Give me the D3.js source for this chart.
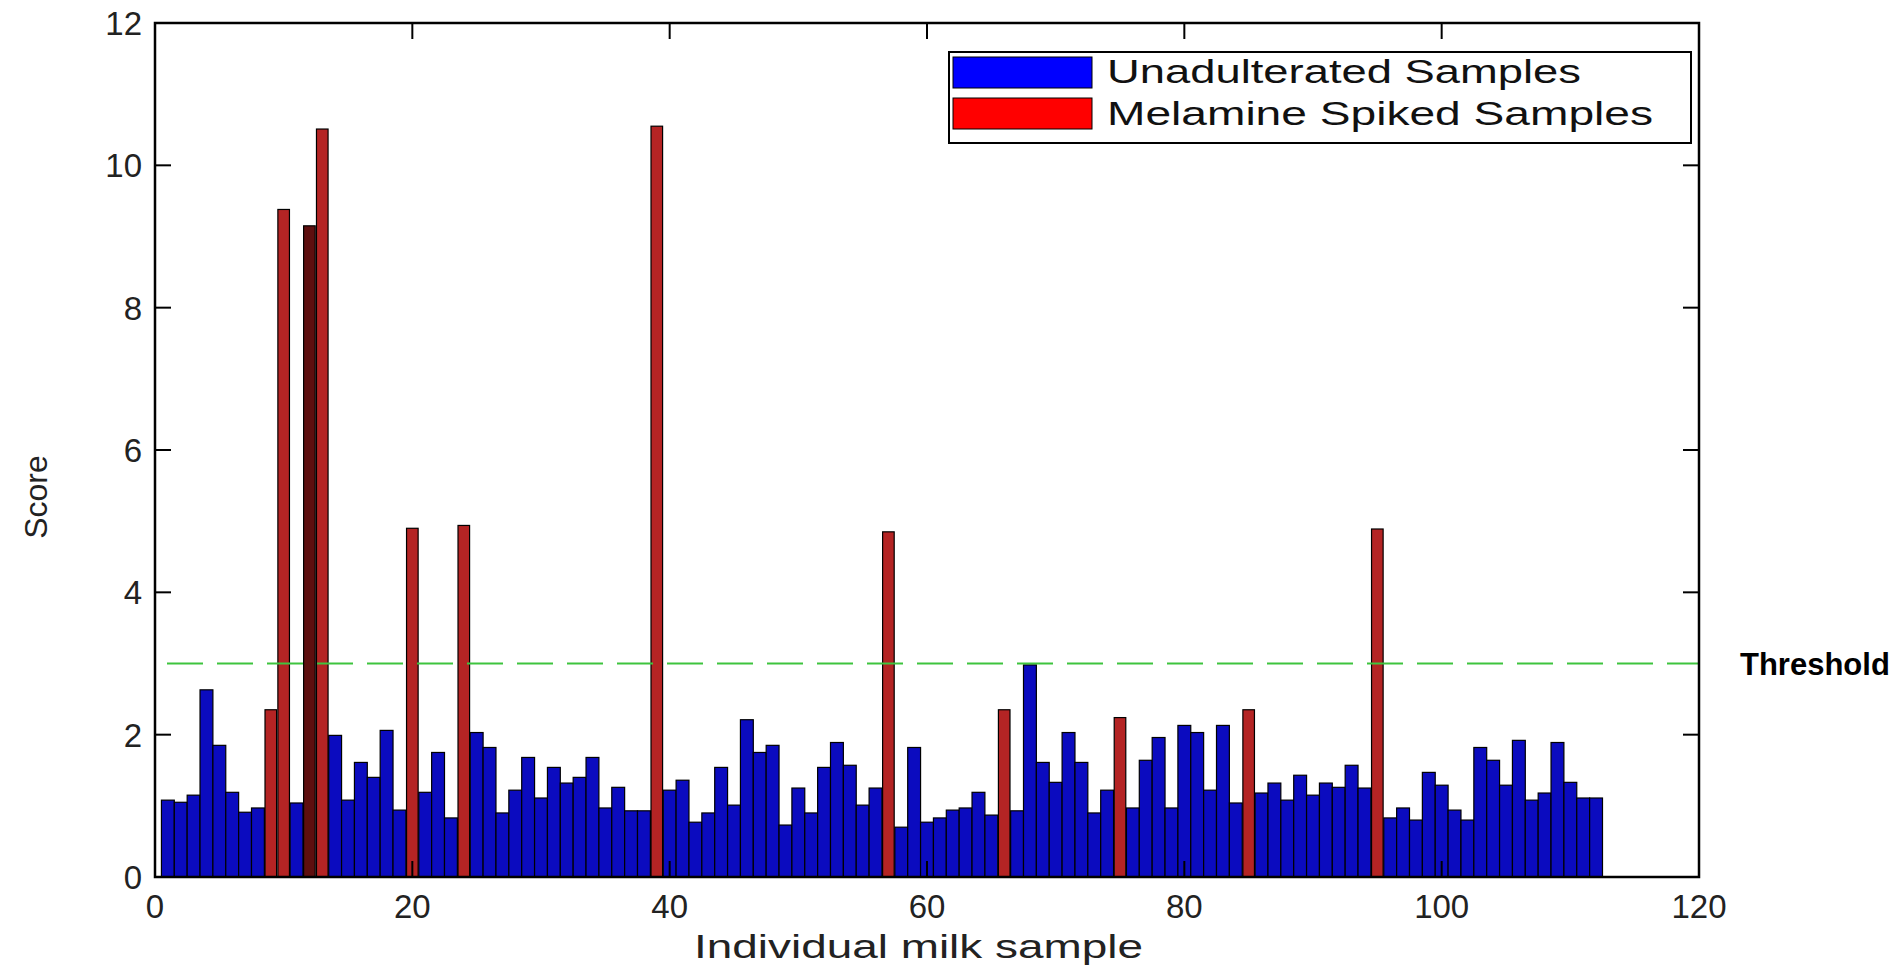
<!DOCTYPE html>
<html>
<head>
<meta charset="utf-8">
<script src="https://cdn.jsdelivr.net/npm/d3@7"></script>
<style>
  body { margin: 0; background: #fff; }
  svg { display: block; }
  text { font-family: "Liberation Sans", Arial, sans-serif; }
</style>
</head>
<body>
<svg id="chart"></svg>
<script>
// Score of each milk sample, samples 1..112
const scores = [
  1.08, 1.05, 1.15, 2.63, 1.85, 1.19, 0.91, 0.97, 2.35, 9.38,
  1.04, 9.15, 10.51, 1.99, 1.08, 1.61, 1.40, 2.06, 0.94, 4.90,
  1.19, 1.75, 0.83, 4.94, 2.03, 1.82, 0.90, 1.22, 1.68, 1.11,
  1.54, 1.32, 1.40, 1.68, 0.97, 1.26, 0.93, 0.93, 10.55, 1.22,
  1.36, 0.77, 0.90, 1.54, 1.01, 2.21, 1.75, 1.85, 0.73, 1.25,
  0.90, 1.54, 1.89, 1.57, 1.01, 1.25, 4.85, 0.70, 1.82, 0.77,
  0.83, 0.94, 0.97, 1.19, 0.87, 2.35, 0.93, 2.98, 1.61, 1.33,
  2.03, 1.61, 0.90, 1.22, 2.24, 0.97, 1.64, 1.96, 0.97, 2.13,
  2.03, 1.22, 2.13, 1.04, 2.35, 1.18, 1.32, 1.08, 1.43, 1.15,
  1.32, 1.26, 1.57, 1.25, 4.89, 0.83, 0.97, 0.80, 1.47, 1.29,
  0.94, 0.80, 1.82, 1.64, 1.29, 1.92, 1.08, 1.18, 1.89, 1.33,
  1.11, 1.11
];
// sample numbers spiked with melamine
const spiked = [9, 10, 12, 13, 20, 24, 39, 57, 66, 75, 85, 95];
const threshold = 3;
const xTicks = [0, 20, 40, 60, 80, 100, 120];
const yTicks = [0, 2, 4, 6, 8, 10, 12];
const legendLabels = ["Unadulterated Samples", "Melamine Spiked Samples"];

const width = 1903, height = 970;
const plot = {left: 155, right: 1699, top: 23, bottom: 877};

const svg = d3.select("#chart")
  .attr("width", width)
  .attr("height", height);

const x = d3.scaleLinear([0, 120], [plot.left, plot.right]);
const y = d3.scaleLinear([0, 12], [plot.bottom, plot.top]);

const samples = scores.map((v, i) => ({n: i + 1, v}));
const plain = samples.filter(d => !spiked.includes(d.n));
const spikedData = samples.filter(d => spiked.includes(d.n));

const blue = "#0b0bbf", red = "#b42424";

// unadulterated bars
svg.append("g")
  .selectAll("rect")
  .data(plain)
  .join("rect")
  .attr("x", d => x(d.n - 0.5))
  .attr("width", x(1) - x(0))
  .attr("y", d => y(d.v))
  .attr("height", d => y(0) - y(d.v))
  .attr("fill", blue)
  .attr("stroke", "#000")
  .attr("stroke-width", 1.2);

// spiked bars
svg.append("g")
  .selectAll("rect")
  .data(spikedData)
  .join("rect")
  .attr("x", d => x(d.n - 0.45))
  .attr("width", x(0.9) - x(0))
  .attr("y", d => y(d.v))
  .attr("height", d => y(0) - y(d.v))
  .attr("fill", d => d.n === 12 ? "#5e0f0f" : red)  // sample 12 looks darker in the source
  .attr("stroke", "#000")
  .attr("stroke-width", 1.2);

// threshold
svg.append("line")
  .attr("x1", x(0) + 12).attr("x2", plot.right)
  .attr("y1", y(threshold)).attr("y2", y(threshold))
  .attr("stroke", "#3ec43e")
  .attr("stroke-width", 2)
  .attr("stroke-dasharray", "36,14");

svg.append("text")
  .attr("x", 1740)
  .attr("y", y(threshold) + 11)
  .attr("font-size", 31)
  .attr("font-weight", "bold")
  .attr("fill", "#000")
  .text("Threshold");

// axes with inward ticks on all four sides
const tick = 16;
const axisG = svg.append("g").attr("stroke", "#000").attr("stroke-width", 2);
xTicks.slice(1, -1).forEach(t => {
  axisG.append("line").attr("x1", x(t)).attr("x2", x(t)).attr("y1", plot.bottom).attr("y2", plot.bottom - tick);
  axisG.append("line").attr("x1", x(t)).attr("x2", x(t)).attr("y1", plot.top).attr("y2", plot.top + tick);
});
yTicks.slice(1, -1).forEach(t => {
  axisG.append("line").attr("x1", plot.left).attr("x2", plot.left + tick).attr("y1", y(t)).attr("y2", y(t));
  axisG.append("line").attr("x1", plot.right).attr("x2", plot.right - tick).attr("y1", y(t)).attr("y2", y(t));
});
svg.append("rect")
  .attr("x", plot.left).attr("y", plot.top)
  .attr("width", plot.right - plot.left).attr("height", plot.bottom - plot.top)
  .attr("fill", "none").attr("stroke", "#000").attr("stroke-width", 2.5);

svg.append("g")
  .selectAll("text")
  .data(xTicks)
  .join("text")
  .attr("x", d => x(d))
  .attr("y", 918)
  .attr("text-anchor", "middle")
  .attr("font-size", 33)
  .attr("fill", "#222")
  .text(d => d);

svg.append("g")
  .selectAll("text")
  .data(yTicks)
  .join("text")
  .attr("x", 142)
  .attr("y", d => y(d) + 12)
  .attr("text-anchor", "end")
  .attr("font-size", 33)
  .attr("fill", "#222")
  .text(d => d);

svg.append("text")
  .attr("x", 694)
  .attr("y", 958)
  .attr("font-size", 33)
  .attr("fill", "#222")
  .attr("textLength", 449)
  .attr("lengthAdjust", "spacingAndGlyphs")
  .text("Individual milk sample");

svg.append("text")
  .attr("transform", "translate(47,497) rotate(-90)")
  .attr("text-anchor", "middle")
  .attr("font-size", 32)
  .attr("fill", "#222")
  .text("Score");

// legend
const legend = svg.append("g");
legend.append("rect")
  .attr("x", 949).attr("y", 52).attr("width", 742).attr("height", 91)
  .attr("fill", "#fff").attr("stroke", "#000").attr("stroke-width", 2);
const legendColors = ["#0000ff", "#ff0000"];
const legendWidths = [474, 546];
legendLabels.forEach((label, i) => {
  legend.append("rect")
    .attr("x", 953).attr("y", 57 + i * 41).attr("width", 139).attr("height", 31)
    .attr("fill", legendColors[i]).attr("stroke", "#000").attr("stroke-width", 1);
  legend.append("text")
    .attr("x", 1107).attr("y", 83 + i * 42)
    .attr("font-size", 34)
    .attr("fill", "#111")
    .attr("textLength", legendWidths[i])
    .attr("lengthAdjust", "spacingAndGlyphs")
    .text(label);
});
</script>
</body>
</html>
